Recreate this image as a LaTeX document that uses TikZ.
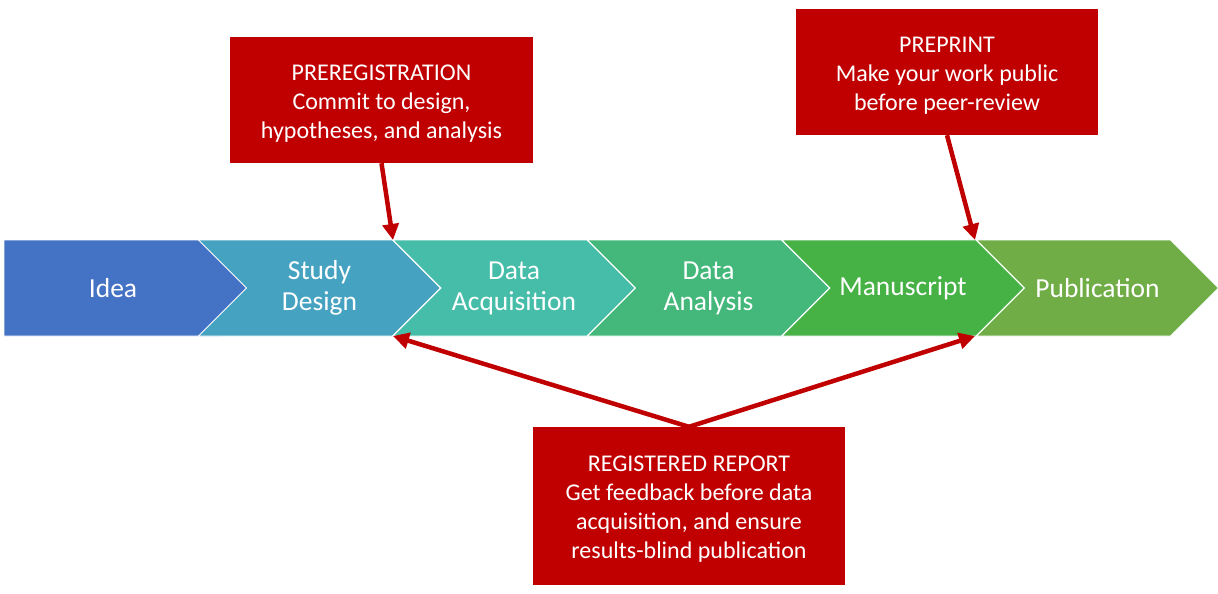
\documentclass[tikz,border=0pt]{standalone}
\usepackage{fontspec}
\setmainfont{Carlito}
\usetikzlibrary{shapes.symbols,arrows.meta}
\definecolor{ideablue}{HTML}{4472C4}
\definecolor{designblue}{HTML}{46A2C1}
\definecolor{acqteal}{HTML}{45BDA9}
\definecolor{anagreen}{HTML}{44B77A}
\definecolor{manugreen}{HTML}{46B145}
\definecolor{pubgreen}{HTML}{70AD47}
\definecolor{notered}{HTML}{C00000}
\newcommand{\notestrut}{\rule{0pt}{22pt}}

\begin{document}
\begin{tikzpicture}[x=1pt,y=-1pt,>={Triangle[length=16pt,width=16pt]},
    stage/.style={signal,signal to=east,signal from=west,draw=white,line width=0.8pt,
      minimum width=242pt,minimum height=96pt,inner sep=0pt,text=white,
      font=\fontsize{27.5}{31}\selectfont,align=center},
    note/.style={fill=notered,text=white,inner sep=0pt,
      font=\fontsize{24}{29}\selectfont,align=center},
    link/.style={->,draw=notered,line width=4.5pt}]
  \useasboundingbox (0,0) rectangle (1218,594);
  % Stages
  \node[stage,signal from=nowhere,minimum width=266pt,fill=ideablue] (idea) at (113,288) {Idea};
  \node[stage,fill=designblue] (design) at (319.5,288) {Study\\Design};
  \node[stage,fill=acqteal] (acq) at (514,288) {Data\\Acquisition};
  \node[stage,fill=anagreen] (ana) at (708.5,288) {Data\\Analysis};
  \node[stage,fill=manugreen] (manu) at (903,288) {Manuscript};
  \node[stage,fill=pubgreen] (pub) at (1097.5,288) {Publication};
  % Joints between stages
  \coordinate (designtop) at (393,240);
  \coordinate (designbot) at (393,336);
  \coordinate (manutop) at (975,240);
  \coordinate (manubot) at (975,336);
  % Notes
  \node[note,minimum width=303pt,minimum height=126pt] (prereg) at (381.5,100)
    {\notestrut PREREGISTRATION\\Commit to design,\\hypotheses, and analysis};
  \node[note,minimum width=302pt,minimum height=126pt] (preprint) at (947,72)
    {\notestrut PREPRINT\\Make your work public\\before peer-review};
  \node[note,minimum width=312pt,minimum height=158pt] (report) at (689,506)
    {\notestrut REGISTERED REPORT\\Get feedback before data\\acquisition, and ensure\\results-blind publication};
  % Arrows
  \draw[link] (prereg.south) -- (designtop);
  \draw[link] (preprint.south) -- (manutop);
  \draw[link] (report.north) -- (designbot);
  \draw[link] (report.north) -- (manubot);
\end{tikzpicture}
\end{document}
